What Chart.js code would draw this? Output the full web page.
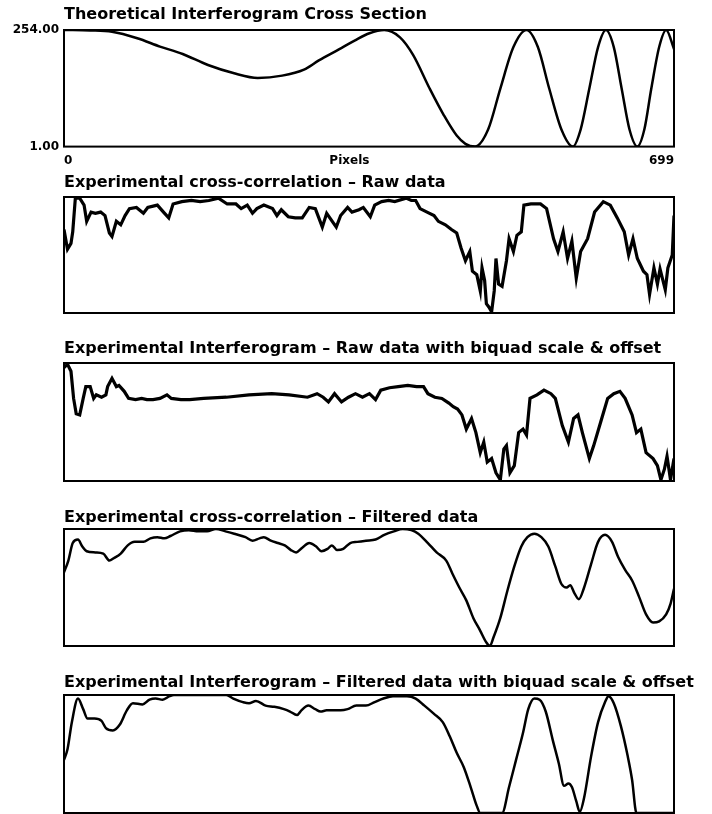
<!DOCTYPE html>
<html>
<head>
<meta charset="utf-8">
<title>Interferogram cross sections</title>
<script src="https://cdn.jsdelivr.net/npm/chart.js@4.4.1/dist/chart.umd.min.js"></script>
<style>
  html, body { margin: 0; padding: 0; background: #fff; }
  #wrap { position: relative; width: 712px; height: 814px; overflow: hidden; }
  #wrap canvas { position: absolute; left: 0; }
</style>
</head>
<body>
<div id="wrap">
  <canvas id="p1" width="712" height="171" style="top:4px"></canvas>
  <canvas id="p2" width="712" height="142" style="top:172px"></canvas>
  <canvas id="p3" width="712" height="144" style="top:338px"></canvas>
  <canvas id="p4" width="712" height="140" style="top:507px"></canvas>
  <canvas id="p5" width="712" height="142" style="top:672px"></canvas>
</div>
<script>
// pixel axis shared by every panel
const pixelRange = [0, 699];
const xTickValues = [0, 327, 699];
const xTickLabels = ['0', 'Pixels', '699'];

// theoretical panel, grey levels
const theoRange = [1, 254];
const theoTicks = [1, 254];
const theoretical = [
  [0, 254], [30, 253], [55, 250], [84, 236], [110, 218], [136, 202], [165, 178], [195, 160],
  [222, 150], [250, 155], [275, 168], [292, 188], [315, 212], [333, 231], [350, 247], [367, 254],
  [385, 238], [400, 200], [419, 127], [435, 70], [450, 25], [460, 7], [471, 1],
  [486, 38], [500, 127], [515, 217], [530, 254], [543, 217], [556, 127], [570, 38], [583, 1],
  [592, 38], [602, 127], [612, 217], [621, 254], [630, 217], [639, 127], [648, 38], [657, 1],
  [665, 38], [673, 127], [682, 217], [690, 254], [699, 213]
];

// experimental panels, relative scale 0..100
const relRange = [0, 100];

const rawCorrelation = [
  [0, 72], [4, 55], [8, 60], [10, 70], [13, 99], [18, 99], [23, 93], [26, 79], [31, 87], [36, 86],
  [42, 87], [47, 84], [52, 69], [55, 66], [60, 79], [65, 76], [70, 84], [75, 90], [83, 91], [91, 86],
  [96, 91], [107, 93], [114, 87], [120, 82], [125, 94], [135, 96], [146, 97], [156, 96], [166, 97],
  [177, 99], [187, 94], [197, 94], [203, 90], [210, 93], [216, 86], [221, 90], [229, 93], [239, 90],
  [244, 84], [249, 89], [257, 83], [265, 82], [273, 82], [281, 91], [288, 90], [296, 74], [301, 86],
  [312, 74], [317, 84], [325, 91], [330, 87], [338, 89], [343, 91], [351, 83], [356, 93], [364, 96],
  [372, 97], [379, 96], [392, 99], [398, 97], [403, 97], [408, 90], [416, 87], [424, 84], [429, 79],
  [437, 76], [444, 72], [450, 69], [455, 56], [460, 45], [465, 53], [468, 36], [473, 33], [477, 19],
  [479, 39], [482, 28], [484, 8], [487, 5], [490, 1], [493, 19], [495, 47], [498, 25], [502, 23],
  [507, 45], [510, 64], [515, 53], [519, 67], [524, 70], [527, 93], [535, 94], [546, 94], [553, 90],
  [561, 64], [566, 53], [572, 70], [577, 47], [582, 62], [587, 30], [592, 53], [600, 64], [608, 87],
  [618, 96], [626, 93], [634, 82], [642, 70], [647, 50], [652, 64], [657, 47], [664, 36], [668, 33],
  [671, 16], [676, 39], [680, 25], [683, 38], [689, 20], [692, 39], [697, 50], [699, 84]
];

const rawInterferogram = [
  [0, 96], [4, 99], [8, 93], [11, 70], [14, 57], [18, 56], [22, 70], [25, 80], [30, 80], [34, 70],
  [37, 73], [43, 71], [48, 73], [50, 80], [55, 87], [60, 80], [63, 81], [69, 76], [74, 70], [82, 69],
  [89, 70], [95, 69], [102, 69], [110, 70], [118, 73], [123, 70], [134, 69], [144, 69], [160, 70],
  [186, 71], [212, 73], [238, 74], [258, 73], [279, 71], [290, 74], [297, 71], [303, 67], [310, 74],
  [318, 67], [326, 71], [334, 74], [342, 71], [350, 74], [357, 69], [363, 77], [373, 79], [383, 80],
  [394, 81], [404, 80], [412, 80], [417, 74], [425, 71], [433, 70], [441, 66], [446, 63], [451, 61],
  [456, 56], [461, 44], [467, 53], [472, 41], [477, 24], [481, 33], [485, 16], [490, 19], [495, 7],
  [500, 1], [504, 27], [507, 30], [511, 7], [516, 13], [521, 41], [526, 44], [530, 39], [534, 70],
  [542, 73], [550, 77], [558, 74], [563, 70], [571, 47], [578, 33], [584, 53], [589, 56], [594, 41],
  [602, 19], [607, 30], [615, 50], [623, 70], [630, 74], [637, 76], [643, 70], [651, 56], [656, 41],
  [661, 44], [667, 24], [675, 19], [680, 13], [684, 1], [688, 10], [691, 21], [695, 1], [699, 19]
];

const filteredCorrelation = [
  [0, 63], [5, 73], [10, 88], [16, 91], [21, 85], [26, 81], [36, 80], [45, 79], [52, 73], [57, 75],
  [65, 79], [73, 86], [81, 89], [91, 89], [99, 92], [107, 93], [115, 92], [122, 94], [133, 98],
  [143, 99], [154, 98], [164, 98], [174, 100], [185, 98], [195, 96], [208, 93], [216, 90], [224, 92],
  [229, 93], [237, 90], [245, 88], [253, 86], [260, 82], [266, 80], [273, 84], [281, 88], [289, 85],
  [295, 81], [302, 83], [307, 86], [313, 82], [320, 83], [328, 88], [336, 89], [346, 90], [357, 91],
  [367, 95], [378, 98], [388, 100], [398, 99], [406, 96], [417, 88], [427, 80], [438, 73], [445, 62],
  [453, 50], [461, 39], [469, 24], [477, 13], [484, 3], [488, 0], [492, 7], [500, 24], [508, 47],
  [516, 68], [524, 85], [531, 93], [539, 96], [547, 93], [555, 85], [563, 68], [570, 53], [576, 50],
  [580, 52], [585, 45], [590, 40], [596, 50], [604, 70], [612, 89], [620, 95], [628, 89], [635, 76],
  [643, 65], [651, 56], [659, 42], [667, 27], [675, 20], [682, 21], [690, 27], [695, 36], [699, 49]
];

const filteredInterferogram = [
  [0, 45], [4, 54], [9, 77], [16, 97], [22, 88], [27, 80], [35, 80], [43, 78], [48, 72], [56, 70],
  [64, 75], [72, 87], [79, 93], [90, 92], [98, 96], [105, 97], [113, 96], [121, 99], [126, 100],
  [186, 100], [194, 97], [205, 94], [212, 93], [220, 95], [231, 91], [241, 90], [252, 88], [259, 86],
  [267, 83], [272, 87], [280, 91], [288, 88], [294, 86], [301, 87], [309, 87], [317, 87], [325, 88],
  [335, 91], [346, 91], [356, 94], [366, 97], [377, 99], [393, 99], [403, 97], [413, 91], [424, 84],
  [434, 77], [442, 65], [450, 51], [458, 39], [466, 22], [473, 6], [477, 0], [502, 0], [510, 22],
  [518, 45], [526, 68], [532, 88], [539, 97], [545, 96], [552, 86], [560, 62], [567, 42], [573, 23],
  [578, 25], [582, 22], [587, 10], [591, 1], [596, 13], [604, 48], [612, 77], [620, 94], [624, 99],
  [630, 93], [638, 74], [646, 48], [651, 28], [656, 0], [699, 0]
];

const FONT = "'DejaVu Sans', Verdana, sans-serif";
const FRAME_LEFT = 64;
const FRAME_RIGHT = 674;
const CANVAS_W = 712;

const boxFrame = {
  id: 'boxFrame',
  afterDatasetsDraw(chart) {
    const { ctx, chartArea: a } = chart;
    ctx.save();
    ctx.strokeStyle = '#000';
    ctx.lineWidth = 2;
    ctx.strokeRect(a.left, a.top, a.right - a.left, a.bottom - a.top);
    ctx.restore();
  }
};

const fixWidth = (w) => (scale) => { scale.width = w; };
const tickFont = { family: FONT, size: 12, weight: 'bold' };

function makePanel(id, title, points, range, o) {
  const withAxes = !!o.axes;
  const scales = {
    x: {
      type: 'linear',
      min: pixelRange[0],
      max: pixelRange[1],
      display: withAxes,
      grid: { display: false, drawTicks: false },
      border: { display: false },
      ticks: {
        autoSkip: false,
        maxRotation: 0,
        align: 'inner',
        padding: 7,
        color: '#000',
        font: tickFont,
        callback: (v, i) => xTickLabels[i]
      },
      afterBuildTicks: (s) => { s.ticks = xTickValues.map((v) => ({ value: v })); }
    },
    y: {
      type: 'linear',
      min: range[0],
      max: range[1],
      position: 'left',
      display: withAxes,
      grid: { display: false, drawTicks: false },
      border: { display: false },
      ticks: {
        padding: 5,
        color: '#000',
        font: tickFont,
        callback: (v) => Number(v).toFixed(2)
      },
      afterBuildTicks: (s) => { s.ticks = theoTicks.map((v) => ({ value: v })); }
    },
    yPad: {
      type: 'linear',
      position: 'right',
      display: true,
      grid: { display: false, drawTicks: false },
      border: { display: false },
      ticks: { display: false },
      afterFit: fixWidth(CANVAS_W - FRAME_RIGHT)
    }
  };
  if (withAxes) scales.y.afterFit = fixWidth(FRAME_LEFT);

  return new Chart(document.getElementById(id), {
    type: 'line',
    data: {
      datasets: [{
        data: points.map(([x, y]) => ({ x, y })),
        borderColor: '#000',
        borderWidth: o.lineWidth,
        pointRadius: 0,
        fill: false,
        tension: o.smooth ? 0.4 : 0,
        cubicInterpolationMode: o.smooth ? 'monotone' : 'default'
      }]
    },
    options: {
      responsive: false,
      animation: false,
      events: [],
      layout: {
        padding: { left: withAxes ? 0 : FRAME_LEFT, right: 0, top: 1.4, bottom: o.bottomPad }
      },
      scales: scales,
      plugins: {
        legend: { display: false },
        tooltip: { enabled: false },
        title: {
          display: true,
          text: title,
          align: 'start',
          fullSize: !withAxes,
          color: '#000',
          font: { family: FONT, size: 16, weight: 'bold', lineHeight: 1.2 },
          padding: { top: 0, bottom: o.titleGap }
        }
      }
    },
    plugins: [boxFrame]
  });
}

makePanel('p1', 'Theoretical Interferogram Cross Section', theoretical, theoRange,
  { axes: true, smooth: true, lineWidth: 2.5, titleGap: 5.4, bottomPad: 0 });
makePanel('p2', 'Experimental cross-correlation \u2013 Raw data', rawCorrelation, relRange,
  { smooth: false, lineWidth: 3.2, titleGap: 4.4, bottomPad: 1 });
makePanel('p3', 'Experimental Interferogram \u2013 Raw data with biquad scale & offset', rawInterferogram, relRange,
  { smooth: false, lineWidth: 3.2, titleGap: 4.4, bottomPad: 1 });
makePanel('p4', 'Experimental cross-correlation \u2013 Filtered data', filteredCorrelation, relRange,
  { smooth: true, lineWidth: 2.5, titleGap: 1.4, bottomPad: 1 });
makePanel('p5', 'Experimental Interferogram \u2013 Filtered data with biquad scale & offset', filteredInterferogram, relRange,
  { smooth: true, lineWidth: 2.5, titleGap: 2.4, bottomPad: 1 });
</script>
</body>
</html>
